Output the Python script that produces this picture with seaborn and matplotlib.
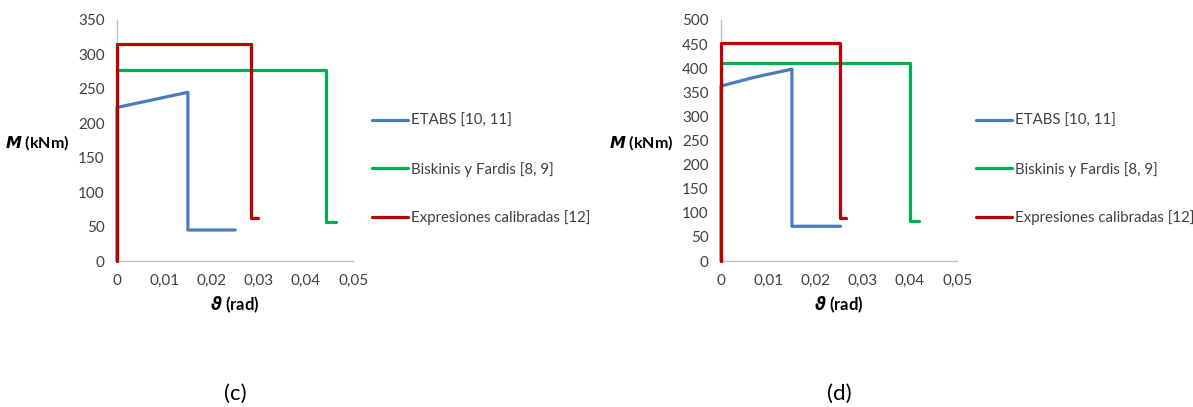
import matplotlib
matplotlib.use("Agg")
import matplotlib.pyplot as plt
import seaborn as sns
import pandas as pd

sns.set_theme(style="white")
plt.rcParams["font.family"] = ["Lato", "DejaVu Sans"]
plt.rcParams["mathtext.fontset"] = "custom"
plt.rcParams["mathtext.rm"] = "Lato"
plt.rcParams["mathtext.it"] = "Lato:italic"
plt.rcParams["mathtext.bf"] = "Lato:bold"
plt.rcParams["mathtext.bfit"] = "DejaVu Sans:bold:italic"

series_names = ["ETABS [10, 11]", "Biskinis y Fardis [8, 9]", "Expresiones calibradas [12]"]
series_colors = ["#4A7EBB", "#00B050", "#C00000"]

# Panel (c): rotation (rad) and moment (kNm) for each model
c_etabs_theta = [0, 0, 0.015, 0.015, 0.025]
c_etabs_m = [0, 223, 245, 45, 45]
c_bisk_theta = [0, 0, 0.0442, 0.0442, 0.0464]
c_bisk_m = [0, 278, 278, 56, 56]
c_calib_theta = [0, 0, 0.0283, 0.0283, 0.0299]
c_calib_m = [0, 315, 315, 62, 62]

# Panel (d)
d_etabs_theta = [0, 0, 0.007, 0.015, 0.015, 0.0253]
d_etabs_m = [0, 363, 381, 398, 72, 72]
d_bisk_theta = [0, 0, 0.0400, 0.0400, 0.0420]
d_bisk_m = [0, 411, 411, 82, 82]
d_calib_theta = [0, 0, 0.0251, 0.0251, 0.0265]
d_calib_m = [0, 452, 452, 89, 89]

x_ticks = [0, 0.01, 0.02, 0.03, 0.04, 0.05]
x_tick_labels = ["0", "0,01", "0,02", "0,03", "0,04", "0,05"]
c_y_ticks = [0, 50, 100, 150, 200, 250, 300, 350]
d_y_ticks = [0, 50, 100, 150, 200, 250, 300, 350, 400, 450, 500]
captions = ["(c)", "(d)"]


def build_frame(thetas, moments):
    rows = []
    for name, th, m in zip(series_names, thetas, moments):
        for i, (a, b) in enumerate(zip(th, m)):
            rows.append({"serie": name, "theta": a, "M": b, "order": i})
    return pd.DataFrame(rows)


panels = [
    (build_frame([c_etabs_theta, c_bisk_theta, c_calib_theta],
                 [c_etabs_m, c_bisk_m, c_calib_m]), c_y_ticks, 0.0981),
    (build_frame([d_etabs_theta, d_bisk_theta, d_calib_theta],
                 [d_etabs_m, d_bisk_m, d_calib_m]), d_y_ticks, 0.6044),
]

fig = plt.figure(figsize=(11.93, 4.07), dpi=100)
spine_col = "#BFBFBF"
text_col = "#404040"

for (df, yt, left), cap in zip(panels, captions):
    ax = fig.add_axes([left, 0.3587, 0.1980, 0.5922])
    sns.lineplot(data=df, x="theta", y="M", hue="serie", hue_order=series_names,
                 palette=series_colors, sort=False, estimator=None, units="serie",
                 linewidth=2.3, ax=ax)
    # curves sit above the axis lines and are not clipped at the plot edge
    for ln in ax.lines:
        ln.set_clip_on(False)
        ln.set_zorder(3)
    ax.set_xlim(0, 0.05)
    ax.set_ylim(0, yt[-1])
    ax.set_xticks(x_ticks)
    ax.set_xticklabels(x_tick_labels)
    ax.set_yticks(yt)
    ax.tick_params(axis="both", direction="in", length=4, width=0.8,
                   color=spine_col, labelsize=11, labelcolor=text_col, pad=9)
    for s in ["top", "right"]:
        ax.spines[s].set_visible(False)
    for s in ["left", "bottom"]:
        ax.spines[s].set_color(spine_col)
        ax.spines[s].set_linewidth(1.0)
    ax.set_xlabel(r"$\mathbfit{\vartheta}$ (rad)", fontsize=12, fontweight="bold",
                  color="black", labelpad=5)
    ax.set_ylabel(r"$\mathbfit{M}$ (kNm)", fontsize=11.5, fontweight="bold",
                  color="black", rotation=0, ha="right", va="center")
    ax.yaxis.set_label_coords(-0.2, 0.49)
    leg = ax.legend(loc="upper left", bbox_to_anchor=(1.055, 0.635), frameon=False,
                    handlelength=2.4, handletextpad=0.2, labelspacing=2.25,
                    fontsize=10.8, borderaxespad=0)
    for t in leg.get_texts():
        t.set_color(text_col)
    ax.text(0.5, -0.55, cap, transform=ax.transAxes, ha="center", va="center",
            fontsize=16, color="black")

fig.savefig("out.png", dpi=100, facecolor="white")
